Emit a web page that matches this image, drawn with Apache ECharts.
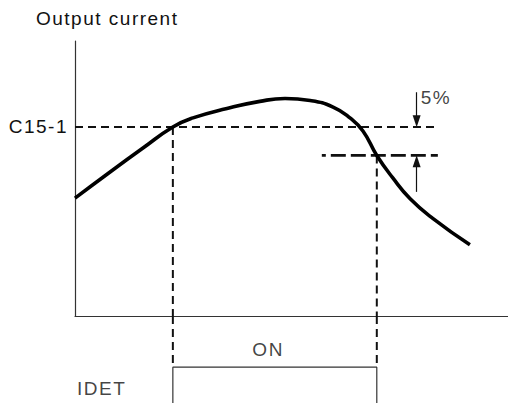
<!DOCTYPE html>
<html>
<head>
<meta charset="utf-8">
<script src="https://cdn.jsdelivr.net/npm/echarts@6/dist/echarts.min.js"></script>
<style>
  html, body { margin: 0; padding: 0; background: #fff; }
  #chart { width: 508px; height: 403px; }
  #chart text { letter-spacing: 1.5px; }
</style>
</head>
<body>
<div id="chart"></div>
<script>
// Output current over time (current in % of the C15-1 detection level)
const timeValues    = [0, 8.1, 15.7, 22.6, 27.25, 35.1, 42.7, 48.5, 54.3, 59.6, 63.5, 66.5, 69.7, 73.4, 77.4, 82.7, 91.2];
const currentValues = [87.5, 92.1, 96.3, 100, 101.6, 103.25, 104.5, 105.0, 104.65, 103.5, 101.6, 99.3, 95.0, 91.05, 87.4, 83.9, 79.3];

// Detection level and hysteresis
const detectLevel = 100;        // C15-1
const hysteresis = 5;           // %
const releaseLevel = detectLevel - hysteresis;
const levelLabel = 'C15-1';
const hysteresisLabel = '5%';

// IDET output: ON from the moment the current reaches C15-1 until it falls 5% below it
const tOn = 22.6;
const tOff = 69.7;
const idetStates = [[0, 0], [tOn, 0], [tOn, 1], [tOff, 1], [tOff, 0], [100, 0]];
const idetLabel = 'IDET';
const onLabel = 'ON';
const yName = 'Output current';

// extents of the guide lines
const levelLineEnd = 83.1;
const releaseLineStart = 57.0;
const releaseLineEnd = 83.8;
const arrowX = 78.9;
const arrowTop = 106.1;
const arrowBottom = 88.6;

const yMin = 66.8, yMax = 115.1;
const idetMin = 0.3, idetMax = 2;

const FONT = 'Liberation Sans, Arial, sans-serif';
const INK = '#111';
const AXIS = '#333';

const chart = echarts.init(document.getElementById('chart'), null, { renderer: 'svg' });

const dashed = (w, pattern, offset) => ({ color: INK, width: w, type: pattern, dashOffset: offset || 0 });

const option = {
  animation: false,
  backgroundColor: '#fff',
  grid: [
    { left: 75, right: 0, top: 41, height: 275 },
    { left: 75, right: 0, top: 316, bottom: 0 }
  ],
  xAxis: [
    {
      type: 'value', gridIndex: 0, min: 0, max: 100,
      axisLine: { show: true, onZero: false, lineStyle: { color: AXIS, width: 1.2 } },
      axisTick: { show: false }, axisLabel: { show: false }, splitLine: { show: false }
    },
    { type: 'value', gridIndex: 1, min: 0, max: 100, show: false }
  ],
  yAxis: [
    {
      type: 'value', gridIndex: 0, min: yMin, max: yMax,
      axisLine: { show: true, onZero: false, lineStyle: { color: AXIS, width: 1.2 } },
      axisTick: { show: false }, splitLine: { show: false },
      axisLabel: {
        show: true, customValues: [detectLevel],
        formatter: v => (Math.abs(v - detectLevel) < 1e-6 ? levelLabel : ''),
        margin: 7, color: INK, fontSize: 19, fontFamily: FONT
      }
    },
    { type: 'value', gridIndex: 1, min: idetMin, max: idetMax, show: false }
  ],
  graphic: [
    {
      type: 'text', left: 36, top: 9,
      style: { text: yName, fill: INK, font: '19px ' + FONT }
    }
  ],
  series: [
    {
      name: 'current', type: 'line', xAxisIndex: 0, yAxisIndex: 0,
      data: timeValues.map((t, i) => [t, currentValues[i]]),
      smooth: 0.5, showSymbol: false, symbol: 'none',
      lineStyle: { color: '#000', width: 3.6 }, z: 5
    },
    {
      name: 'detect level', type: 'line', xAxisIndex: 0, yAxisIndex: 0,
      data: [[0, detectLevel], [levelLineEnd, detectLevel]],
      symbol: 'none', lineStyle: dashed(2, [8, 5]), z: 3
    },
    {
      name: 'release level', type: 'line', xAxisIndex: 0, yAxisIndex: 0,
      data: [[releaseLineStart, releaseLevel], [releaseLineEnd, releaseLevel]],
      symbol: 'none', lineStyle: dashed(2.8, [15, 5], 11), z: 3
    },
    {
      name: 'on guide', type: 'line', xAxisIndex: 0, yAxisIndex: 0,
      data: [[tOn, detectLevel], [tOn, yMin]],
      symbol: 'none', lineStyle: dashed(2, [8, 5]), z: 3
    },
    {
      name: 'off guide', type: 'line', xAxisIndex: 0, yAxisIndex: 0,
      data: [[tOff, releaseLevel], [tOff, yMin]],
      symbol: 'none', lineStyle: dashed(2, [8, 5]), z: 3
    },
    {
      name: 'on guide 2', type: 'line', xAxisIndex: 1, yAxisIndex: 1,
      data: [[tOn, idetMax], [tOn, 1]],
      symbol: 'none', lineStyle: dashed(2, [8, 5]), z: 3
    },
    {
      name: 'off guide 2', type: 'line', xAxisIndex: 1, yAxisIndex: 1,
      data: [[tOff, idetMax], [tOff, 1]],
      symbol: 'none', lineStyle: dashed(2, [8, 5]), z: 3
    },
    {
      name: 'IDET', type: 'line', xAxisIndex: 1, yAxisIndex: 1,
      data: idetStates, symbol: 'none', clip: true,
      lineStyle: { color: AXIS, width: 1.2 }, z: 4
    },
    {
      name: 'hysteresis arrows', type: 'line', xAxisIndex: 0, yAxisIndex: 0,
      data: [], symbol: 'none',
      markLine: {
        silent: true, symbol: ['none', 'triangle'], symbolSize: [8, 12],
        label: { show: false },
        lineStyle: { color: INK, width: 1.2, type: 'solid' },
        data: [
          [{ coord: [arrowX, arrowTop] }, { coord: [arrowX, detectLevel + 1] }],
          [{ coord: [arrowX, arrowBottom] }, { coord: [arrowX, releaseLevel - 1] }]
        ]
      }
    },
    {
      name: 'hysteresis label', type: 'scatter', xAxisIndex: 0, yAxisIndex: 0,
      data: [[arrowX, 105.1]], symbolSize: 0, silent: true,
      label: { show: true, position: 'right', distance: 4, formatter: hysteresisLabel,
               color: INK, fontSize: 19, fontFamily: FONT }
    },
    {
      name: 'idet labels', type: 'scatter', xAxisIndex: 1, yAxisIndex: 1,
      symbolSize: 0, silent: true,
      data: [
        { value: [44.6, 1.336], label: { formatter: onLabel, position: 'inside' } },
        { value: [0, 0.593], label: { formatter: idetLabel, position: 'right', distance: 2 } }
      ],
      label: { show: true, color: INK, fontSize: 19, fontFamily: FONT }
    }
  ]
};

chart.setOption(option);
</script>
</body>
</html>
